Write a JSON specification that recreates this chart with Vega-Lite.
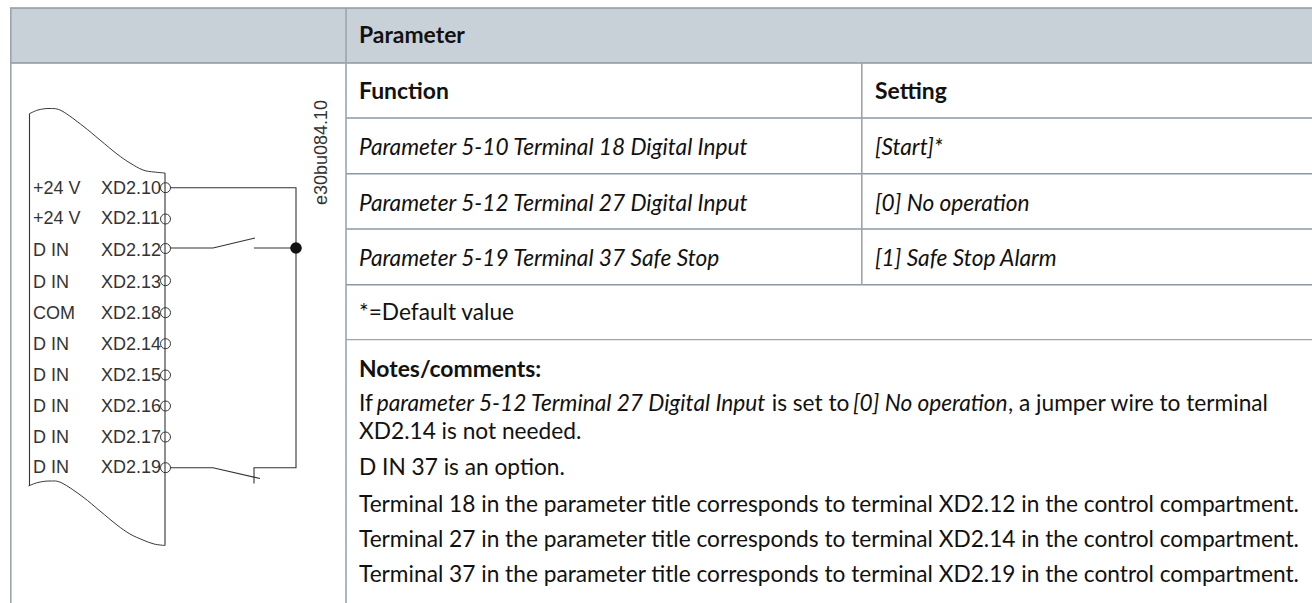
{
"$schema":"https://vega.github.io/schema/vega-lite/v6.json",
"width":1312,"height":603,"padding":0,"autosize":{"type":"none"},"background":"white",
"config":{"view":{"stroke":null},"axis":{"domain":false,"ticks":false,"labels":false,"grid":false,"title":null}},
"encoding":{
"x":{"field":"x","type":"quantitative","scale":{"domain":[0,1312],"nice":false,"zero":false},"axis":null},
"y":{"field":"y","type":"quantitative","scale":{"domain":[0,603],"reverse":true,"nice":false,"zero":false},"axis":null}
},
"layer":[
{"data":{"values":[{"x":10,"x2":1312,"y":8,"y2":63}]},"mark":{"type":"rect","fill":"#c9d1d8"},"encoding":{"x2":{"field":"x2"},"y2":{"field":"y2"}}},
{"data":{"values":[{"x":10,"x2":1312,"y":8},{"x":10,"x2":1312,"y":63},{"x":346,"x2":1312,"y":118},{"x":346,"x2":1312,"y":173.7},{"x":346,"x2":1312,"y":229},{"x":346,"x2":1312,"y":284.8}]},"mark":{"type":"rule","stroke":"#8b98a3","strokeWidth":1.6},"encoding":{"x2":{"field":"x2"}}},
{"data":{"values":[{"x":346,"x2":1312,"y":339.7}]},"mark":{"type":"rule","stroke":"#9aa5ae","strokeWidth":1.2},"encoding":{"x2":{"field":"x2"}}},
{"data":{"values":[{"x":10.8,"y":8,"y2":603},{"x":346,"y":8,"y2":603},{"x":861.8,"y":63,"y2":285}]},"mark":{"type":"rule","stroke":"#9aa5ae","strokeWidth":1.6},"encoding":{"y2":{"field":"y2"}}},
{"data":{"values":[
{"s":"a","o":1,"x":29,"y":114},{"s":"a","o":2,"x":38,"y":110},{"s":"a","o":3,"x":50,"y":108.5},{"s":"a","o":4,"x":62,"y":111},{"s":"a","o":5,"x":83,"y":126},{"s":"a","o":6,"x":100,"y":140},{"s":"a","o":7,"x":117,"y":154},{"s":"a","o":8,"x":130,"y":163},{"s":"a","o":9,"x":143,"y":170},{"s":"a","o":10,"x":154,"y":172},{"s":"a","o":11,"x":165,"y":173},
{"s":"b","o":1,"x":28.5,"y":486},{"s":"b","o":2,"x":38,"y":482.5},{"s":"b","o":3,"x":50,"y":481},{"s":"b","o":4,"x":62,"y":483},{"s":"b","o":5,"x":83,"y":497},{"s":"b","o":6,"x":100,"y":511},{"s":"b","o":7,"x":117,"y":525},{"s":"b","o":8,"x":130,"y":534},{"s":"b","o":9,"x":143,"y":540},{"s":"b","o":10,"x":154,"y":544},{"s":"b","o":11,"x":165,"y":545.5}
]},"mark":{"type":"line","stroke":"#222222","strokeWidth":0.9,"interpolate":"cardinal"},"encoding":{"detail":{"field":"s"},"order":{"field":"o"}}},
{"data":{"values":[
{"s":"l","o":1,"x":29.5,"y":114},{"s":"l","o":2,"x":29.5,"y":486},
{"s":"r","o":1,"x":165,"y":173},{"s":"r","o":2,"x":165,"y":545.5},
{"s":"w1","o":1,"x":170,"y":187.7},{"s":"w1","o":2,"x":296,"y":187.7},{"s":"w1","o":3,"x":296,"y":467.7},{"s":"w1","o":4,"x":254,"y":467.7},{"s":"w1","o":5,"x":254,"y":483.5},
{"s":"w2","o":1,"x":170,"y":248},{"s":"w2","o":2,"x":213,"y":248},{"s":"w2","o":3,"x":255,"y":238},
{"s":"w3","o":1,"x":254,"y":248},{"s":"w3","o":2,"x":296,"y":248},
{"s":"w4","o":1,"x":170,"y":467.7},{"s":"w4","o":2,"x":213,"y":467.7},{"s":"w4","o":3,"x":260,"y":478.5}
]},"mark":{"type":"line","stroke":"#333333","strokeWidth":1.1,"interpolate":"linear"},"encoding":{"detail":{"field":"s"},"order":{"field":"o"}}},
{"data":{"values":[{"x":165.5,"y":187.7},{"x":165.5,"y":219},{"x":165.5,"y":248.5},{"x":165.5,"y":280.7},{"x":165.5,"y":312.7},{"x":165.5,"y":343.7},{"x":165.5,"y":375},{"x":165.5,"y":406},{"x":165.5,"y":437},{"x":165.5,"y":467.7}]},"mark":{"type":"point","shape":"circle","size":100,"filled":false,"stroke":"#222222","strokeWidth":0.9,"opacity":1}},
{"data":{"values":[{"x":296,"y":248}]},"mark":{"type":"point","shape":"circle","size":135,"filled":true,"fill":"#111111","opacity":1}},
{"data":{"values":[
{"x":33,"y":194,"t":"+24 V"},{"x":101,"y":194,"t":"XD2.10"},
{"x":33,"y":224,"t":"+24 V"},{"x":101,"y":224,"t":"XD2.11"},
{"x":33,"y":256,"t":"D IN"},{"x":101,"y":256,"t":"XD2.12"},
{"x":33,"y":288,"t":"D IN"},{"x":101,"y":288,"t":"XD2.13"},
{"x":33,"y":318.5,"t":"COM"},{"x":101,"y":318.5,"t":"XD2.18"},
{"x":33,"y":350,"t":"D IN"},{"x":101,"y":350,"t":"XD2.14"},
{"x":33,"y":381,"t":"D IN"},{"x":101,"y":381,"t":"XD2.15"},
{"x":33,"y":412,"t":"D IN"},{"x":101,"y":412,"t":"XD2.16"},
{"x":33,"y":443,"t":"D IN"},{"x":101,"y":443,"t":"XD2.17"},
{"x":33,"y":473,"t":"D IN"},{"x":101,"y":473,"t":"XD2.19"}
]},"mark":{"type":"text","font":"Liberation Sans","fontSize":18,"align":"left","baseline":"alphabetic","fill":"#333333"},"encoding":{"text":{"field":"t"}}},
{"data":{"values":[{"x":327,"y":205,"t":"e30bu084.10"}]},"mark":{"type":"text","font":"Liberation Sans","fontSize":18,"align":"left","baseline":"alphabetic","angle":270,"fill":"#333333"},"encoding":{"text":{"field":"t"}}},
{"data":{"values":[{"x":312,"x2":340,"y":85,"y2":99}]},"mark":{"type":"rect","fill":"white"},"encoding":{"x2":{"field":"x2"},"y2":{"field":"y2"}}},
{"data":{"values":[
{"x":359,"y":43,"t":"Parameter"},{"x":359,"y":99,"t":"Function"},{"x":875,"y":99,"t":"Setting"},{"x":359,"y":376.5,"t":"Notes/comments:"}
]},"mark":{"type":"text","font":"Lato","fontSize":22.9,"fontWeight":"bold","align":"left","baseline":"alphabetic","fill":"#111111"},"encoding":{"text":{"field":"t"}}},
{"data":{"values":[
{"x":359,"y":154.5,"t":"Parameter 5-10 Terminal 18 Digital Input"},{"x":875,"y":154.5,"t":"[Start]*"},
{"x":359,"y":210.5,"t":"Parameter 5-12 Terminal 27 Digital Input"},{"x":875,"y":210.5,"t":"[0] No operation"},
{"x":359,"y":265.5,"t":"Parameter 5-19 Terminal 37 Safe Stop"},{"x":875,"y":265.5,"t":"[1] Safe Stop Alarm"},
{"x":376.7,"y":411,"t":"parameter 5-12 Terminal 27 Digital Input"},{"x":853,"y":411,"t":"[0] No operation"}
]},"mark":{"type":"text","font":"Lato","fontSize":22.7,"fontStyle":"italic","align":"left","baseline":"alphabetic","fill":"#111111"},"encoding":{"text":{"field":"t"}}},
{"data":{"values":[
{"x":359,"y":320,"t":"*=Default value"},
{"x":359,"y":411,"t":"If"},{"x":771.7,"y":411,"t":"is set to"},{"x":1008,"y":411,"t":", a jumper wire to terminal"},
{"x":359,"y":439,"t":"XD2.14 is not needed."},
{"x":359,"y":475,"t":"D IN 37 is an option."},
{"x":359,"y":511.5,"t":"Terminal 18 in the parameter title corresponds to terminal XD2.12 in the control compartment."},
{"x":359,"y":547,"t":"Terminal 27 in the parameter title corresponds to terminal XD2.14 in the control compartment."},
{"x":359,"y":582,"t":"Terminal 37 in the parameter title corresponds to terminal XD2.19 in the control compartment."}
]},"mark":{"type":"text","font":"Lato","fontSize":22.7,"align":"left","baseline":"alphabetic","fill":"#111111"},"encoding":{"text":{"field":"t"}}}
]
}
